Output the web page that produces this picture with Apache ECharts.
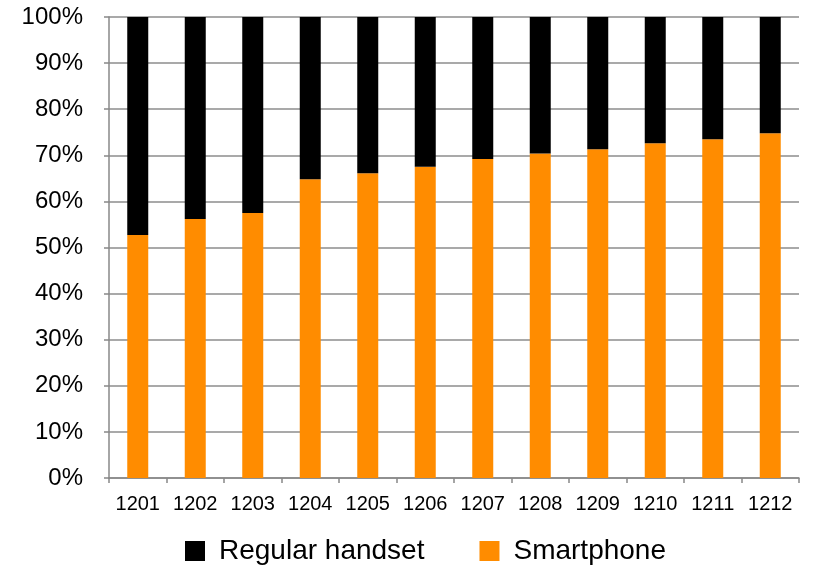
<!DOCTYPE html>
<html><head><meta charset="utf-8">
<script src="https://cdn.jsdelivr.net/npm/echarts@6/dist/echarts.min.js"></script>
<style>html,body{margin:0;padding:0;background:#fff}#c{width:813px;height:569px}</style>
</head><body><div id="c"></div>
<script>
const categories = ['1201','1202','1203','1204','1205','1206','1207','1208','1209','1210','1211','1212'];
const smartphone = [52.7, 56.2, 57.5, 64.8, 66.1, 67.5, 69.2, 70.4, 71.3, 72.6, 73.5, 74.8];
const regular = [47.3, 43.8, 42.5, 35.2, 33.9, 32.5, 30.8, 29.6, 28.7, 27.4, 26.5, 25.2];
const chart = echarts.init(document.getElementById('c'));
const font = 'Liberation Sans, Arial, sans-serif';
chart.setOption({
  animation: false,
  grid: {left: 109, right: 14, top: 17, bottom: 91},
  legend: {
    data: ['Regular handset', 'Smartphone'],
    top: 532, left: 180, itemGap: 55,
    icon: 'rect', itemWidth: 20, itemHeight: 20,
    textStyle: {fontFamily: font, fontSize: 28, color: '#000', padding: [0, 0, 0, 9]}
  },
  xAxis: {
    type: 'category', data: categories,
    axisLine: {lineStyle: {color: '#888', width: 1.5}},
    axisTick: {show: true, length: 5, lineStyle: {color: '#888', width: 1.5}},
    axisLabel: {fontFamily: font, fontSize: 20, color: '#000', margin: 16, interval: 0}
  },
  yAxis: {
    type: 'value', min: 0, max: 100, interval: 10,
    axisLine: {show: true, lineStyle: {color: '#888', width: 1.5}},
    axisTick: {show: true, length: 5, lineStyle: {color: '#888', width: 1.5}},
    splitLine: {lineStyle: {color: '#8c8c8c', width: 1.5}},
    axisLabel: {fontFamily: font, fontSize: 24, color: '#000', margin: 26, formatter: '{value}%'}
  },
  series: [
    {name: 'Smartphone', type: 'bar', stack: 's', data: smartphone, barWidth: 21,
     itemStyle: {color: '#FF8C00'}},
    {name: 'Regular handset', type: 'bar', stack: 's', data: regular, barWidth: 21,
     itemStyle: {color: '#000000'}}
  ]
});
</script></body></html>
